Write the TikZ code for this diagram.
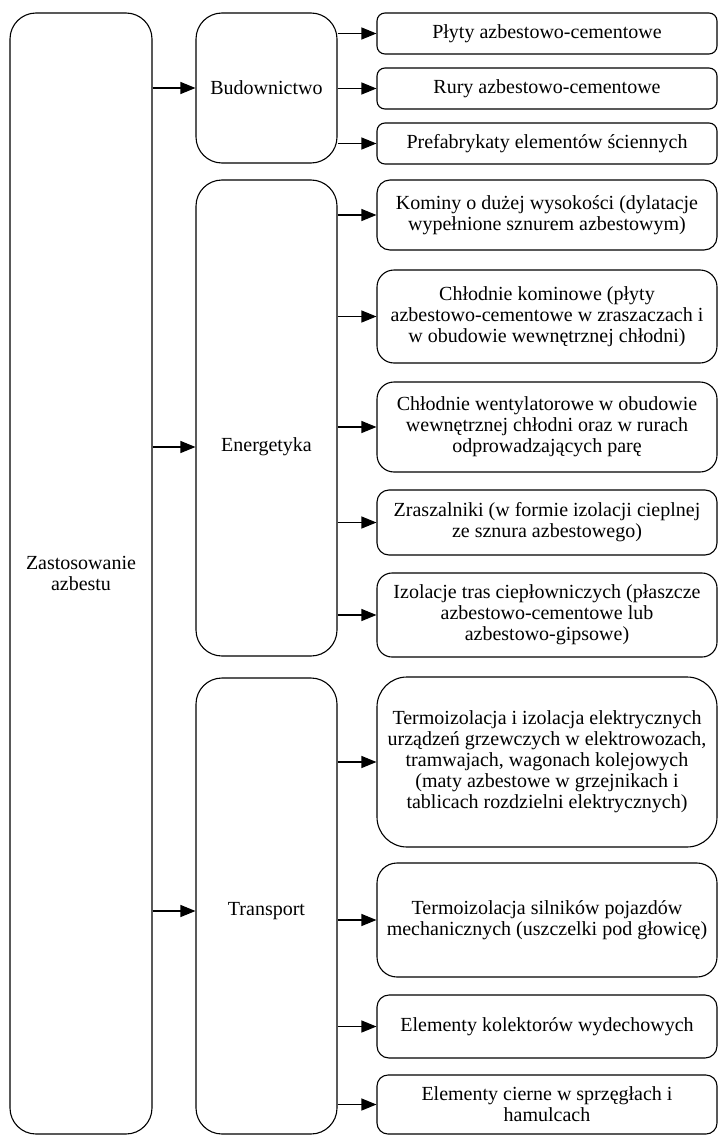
\documentclass[tikz,border=0pt]{standalone}
\usepackage{fontspec}
\setmainfont{Liberation Serif}
\usetikzlibrary{arrows.meta}

\begin{document}
\begin{tikzpicture}[x=1pt, y=-1pt, line width=1.1pt,
    txt/.style={font=\fontsize{20}{21}\selectfont},
    box/.style={draw, rounded corners=#1, align=center, inner sep=0pt, txt},
    box/.default=10pt,
    arr/.style={-{Triangle[length=15pt, width=12pt]}}]
  \useasboundingbox (0,0) rectangle (720,1137);
  % left and middle columns
  \node[box=26pt, minimum width=142pt, minimum height=1121pt] (root) at (81,573.5) {Zastosowanie\\azbestu};
  \node[box=26pt, minimum width=141pt, minimum height=150pt] (bud) at (266.5,88) {Budownictwo};
  \node[box=26pt, minimum width=141pt, minimum height=476pt] (ene) at (266.5,418) {};
  \node[txt] (enetxt) at (266.5,447) {Energetyka};
  \node[box=26pt, minimum width=141pt, minimum height=456pt] (tra) at (266.5,906) {};
  \node[txt] (tratxt) at (266.5,911) {Transport};
  % right column
  \node[box=8pt, minimum width=340pt, minimum height=41pt] (p1) at (547,33.5) {Płyty azbestowo-cementowe};
  \node[box=8pt, minimum width=340pt, minimum height=41pt] (p2) at (547,88.5) {Rury azbestowo-cementowe};
  \node[box=8pt, minimum width=340pt, minimum height=41pt] (p3) at (547,143.5) {Prefabrykaty elementów ściennych};
  \node[box=13pt, minimum width=340pt, minimum height=70pt] (e1) at (547,215) {Kominy o dużej wysokości (dylatacje\\wypełnione sznurem azbestowym)};
  \node[box=17pt, minimum width=340pt, minimum height=93pt] (e2) at (547,316.5) {Chłodnie kominowe (płyty\\azbestowo-cementowe w zraszaczach i\\w obudowie wewnętrznej chłodni)};
  \node[box=17pt, minimum width=340pt, minimum height=90pt] (e3) at (547,427) {Chłodnie wentylatorowe w obudowie\\wewnętrznej chłodni oraz w rurach\\odprowadzających parę};
  \node[box=12pt, minimum width=340pt, minimum height=65pt] (e4) at (547,522.5) {Zraszalniki (w formie izolacji cieplnej\\ze sznura azbestowego)};
  \node[box=15pt, minimum width=340pt, minimum height=84pt] (e5) at (547,615) {Izolacje tras ciepłowniczych (płaszcze\\azbestowo-cementowe lub\\azbestowo-gipsowe)};
  \node[box=30pt, minimum width=340pt, minimum height=170pt] (t1) at (547,762) {Termoizolacja i izolacja elektrycznych\\urządzeń grzewczych w elektrowozach,\\tramwajach, wagonach kolejowych\\(maty azbestowe w grzejnikach i\\tablicach rozdzielni elektrycznych)};
  \node[box=20pt, minimum width=340pt, minimum height=114pt] (t2) at (547,920) {Termoizolacja silników pojazdów\\mechanicznych (uszczelki pod głowicę)};
  \node[box=12pt, minimum width=340pt, minimum height=63pt] (t3) at (547,1026.5) {Elementy kolektorów wydechowych};
  \node[box=11pt, minimum width=340pt, minimum height=59pt] (t4) at (547,1104.5) {Elementy cierne w sprzęgłach i\\hamulcach};
  % arrows
  \draw[arr] (root.east |- bud) -- (bud.west);
  \draw[arr] (root.east |- enetxt) -- (ene.west |- enetxt);
  \draw[arr] (root.east |- tratxt) -- (tra.west |- tratxt);
  \foreach \r in {p1,p2,p3}
    \draw[arr] (bud.east |- \r.west) -- (\r.west);
  \foreach \r in {e1,e2,e3,e4,e5}
    \draw[arr] (ene.east |- \r.west) -- (\r.west);
  \foreach \r in {t1,t2,t3,t4}
    \draw[arr] (tra.east |- \r.west) -- (\r.west);
\end{tikzpicture}
\end{document}
